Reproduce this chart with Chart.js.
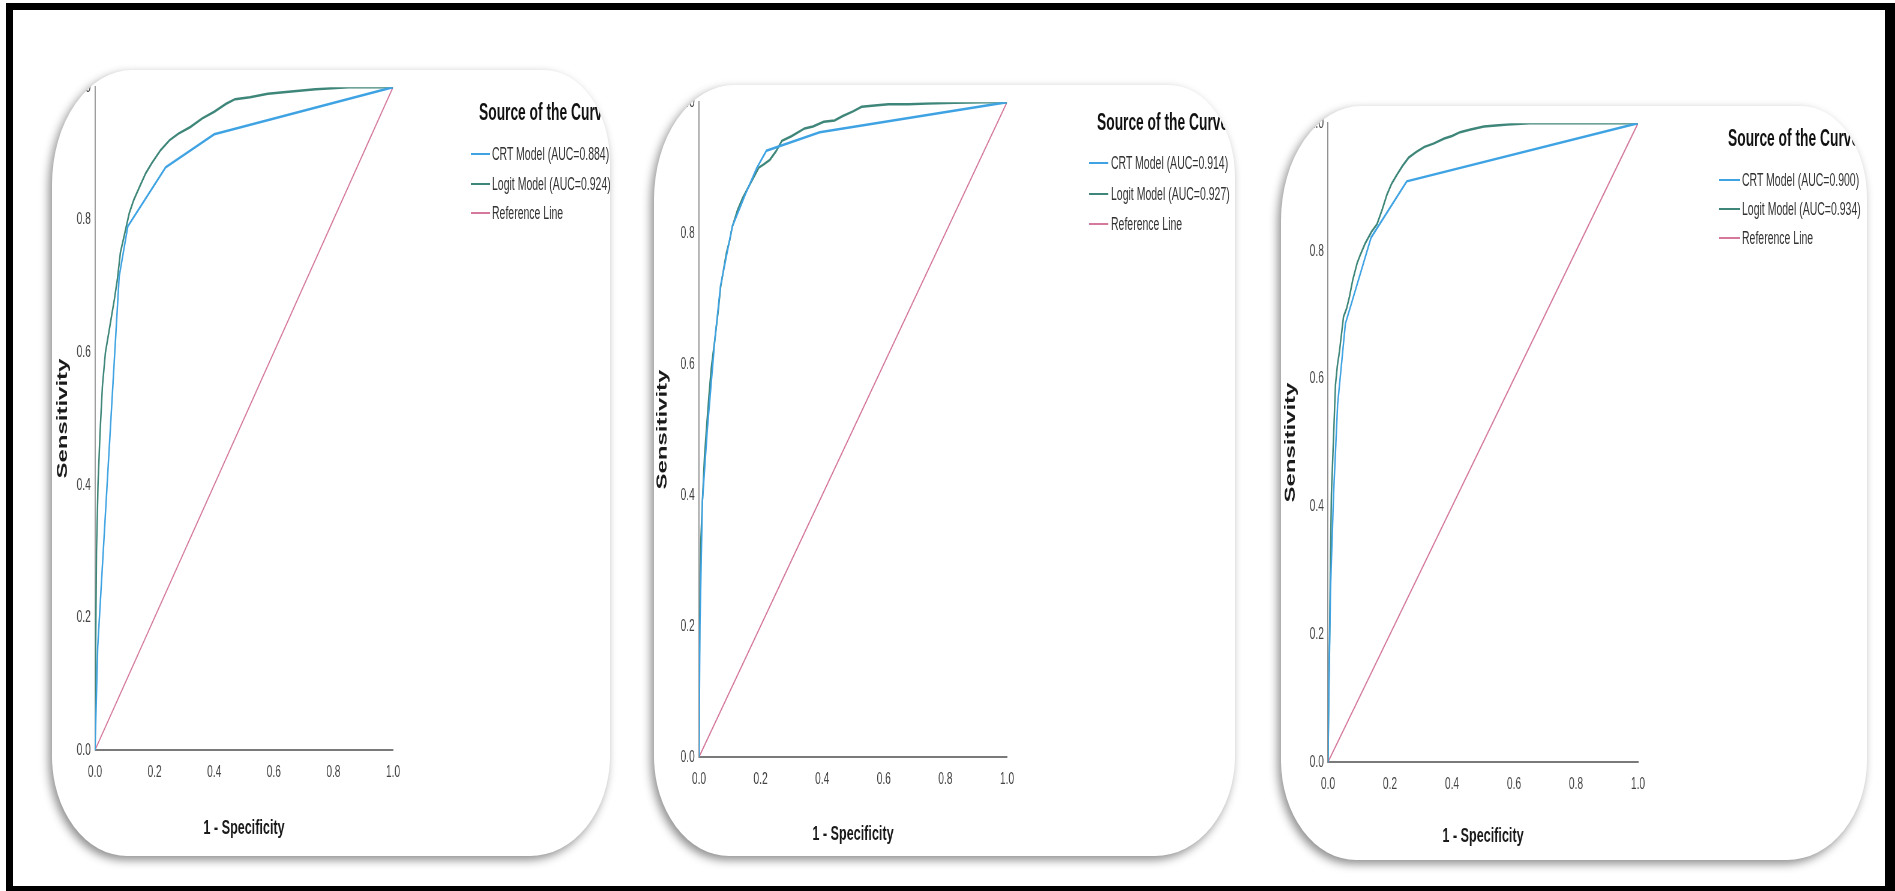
<!DOCTYPE html>
<html>
<head>
<meta charset="utf-8">
<script src="https://cdn.jsdelivr.net/npm/chart.js@4.4.0/dist/chart.umd.min.js"></script>
<style>
html,body{margin:0;padding:0;background:#fff;width:1895px;height:891px;overflow:hidden;position:relative;font-family:"Liberation Sans",Arial,sans-serif;}
#frame{position:absolute;left:6px;top:3px;width:1889px;height:888px;box-sizing:border-box;border-style:solid;border-color:#000;border-width:7px 10px 5px 7px;}
.card{position:absolute;background:#fff;overflow:hidden;border-radius:80px 66px 80px 75px / 115px 92px 100px 100px;box-shadow:-3px 4px 10px rgba(0,0,0,0.45);}
.stage{position:absolute;left:0;top:0;transform-origin:0 0;}
.stage canvas{position:absolute;left:0;top:0;}
.lg-title{position:absolute;font-weight:bold;color:#111;white-space:nowrap;height:28px;line-height:28px;}
.lg-item{position:absolute;white-space:nowrap;color:#333;height:22px;line-height:22px;}
.lg-swatch{position:absolute;height:2px;}
</style>
</head>
<body>
<div id="frame"></div>
<script>
// ---------- data ----------
const tickValues = [0, 0.2, 0.4, 0.6, 0.8, 1.0];
const legendTitle = 'Source of the Curve';
const seriesNames = ['CRT Model', 'Logit Model', 'Reference Line'];
const aucCrt = ['0.884', '0.914', '0.900'];
const aucLogit = ['0.924', '0.927', '0.934'];
const xAxisTitle = '1 - Specificity';
const yAxisTitle = 'Sensitivity';

const refFpr = [0, 1];
const refTpr = [0, 1];

// Panel 1
const crtFpr1 = [0, 0.009, 0.081, 0.11, 0.237, 0.40, 1];
const crtTpr1 = [0, 0.155, 0.714, 0.79, 0.879, 0.929, 1];
const logitFpr1 = [0,0.002,0.005,0.01,0.017,0.025,0.035,0.05,0.065,0.075,0.085,0.1,0.115,0.13,0.15,0.17,0.19,0.22,0.25,0.28,0.32,0.36,0.40,0.44,0.47,0.52,0.58,0.65,0.74,0.85,1];
const logitTpr1 = [0,0.15,0.30,0.40,0.48,0.55,0.60,0.64,0.68,0.71,0.75,0.78,0.81,0.83,0.85,0.87,0.885,0.905,0.92,0.93,0.94,0.953,0.963,0.975,0.982,0.985,0.99,0.993,0.997,1,1];

// Panel 2
const crtFpr2 = [0, 0.003, 0.011, 0.027, 0.052, 0.07, 0.108, 0.151, 0.188, 0.219, 0.392, 1];
const crtTpr2 = [0, 0.2, 0.39, 0.5, 0.64, 0.72, 0.81, 0.86, 0.90, 0.926, 0.954, 1];
const logitFpr2 = [0,0.002,0.006,0.011,0.018,0.024,0.032,0.04,0.052,0.062,0.07,0.08,0.089,0.1,0.108,0.125,0.142,0.16,0.176,0.194,0.21,0.23,0.25,0.269,0.30,0.343,0.37,0.405,0.44,0.467,0.50,0.528,0.57,0.615,0.68,0.74,0.83,0.925,1];
const logitTpr2 = [0,0.2,0.33,0.39,0.46,0.5,0.55,0.595,0.64,0.68,0.717,0.745,0.77,0.79,0.81,0.835,0.854,0.87,0.884,0.9,0.905,0.912,0.925,0.941,0.948,0.96,0.963,0.97,0.972,0.979,0.986,0.993,0.995,0.997,0.997,0.998,0.999,1,1];

// Panel 3
const crtFpr3 = [0, 0.003, 0.008, 0.018, 0.031, 0.056, 0.139, 0.254, 1];
const crtTpr3 = [0, 0.116, 0.27, 0.42, 0.56, 0.686, 0.821, 0.909, 1];
const logitFpr3 = [0,0.002,0.005,0.008,0.011,0.018,0.024,0.03,0.037,0.05,0.06,0.069,0.08,0.094,0.105,0.12,0.14,0.158,0.175,0.19,0.205,0.222,0.24,0.26,0.285,0.311,0.34,0.375,0.40,0.426,0.46,0.503,0.579,0.65,0.707,1];
const logitTpr3 = [0,0.1,0.19,0.32,0.42,0.51,0.59,0.62,0.643,0.697,0.71,0.728,0.755,0.781,0.795,0.812,0.83,0.842,0.865,0.888,0.905,0.919,0.933,0.946,0.955,0.963,0.968,0.976,0.98,0.986,0.99,0.995,0.998,1,1,1];

// ---------- styling / layout ----------
const colors = {crt: '#3fa3e3', logit: '#3e8679', ref: '#d4789c', axis: '#8a8a8a', xaxis: '#7a7a7a', tick: '#444', title: '#1a1a1a'};
const FONT = "'Liberation Sans', Arial, sans-serif";
const SX = 0.6;              // horizontal squeeze of the whole picture
const TICK_SIZE = 17, X_TITLE_SIZE = 21, Y_TITLE_SIZE = 24, LG_TITLE_SIZE = 23, LG_ITEM_SIZE = 17.5;

const layouts = [
  {card:[52,70,610,856],   plot:[95,393,750,84],    ytx:63,   xty:828, lgTitle:[479,112],  lgLine:[471,490],   lgText:492,  lgRows:[154,184,213]},
  {card:[654,85,1235,856], plot:[699,1007,757,94],  ytx:662,  xty:834, lgTitle:[1097,122], lgLine:[1089,1108], lgText:1111, lgRows:[163,194,224]},
  {card:[1281,106,1867,860], plot:[1328,1638,762,112], ytx:1291, xty:836, lgTitle:[1728,138], lgLine:[1719,1740], lgText:1742, lgRows:[180,209,238]}
];
const panelData = [
  {crt:[crtFpr1, crtTpr1], logit:[logitFpr1, logitTpr1], aucC: aucCrt[0], aucL: aucLogit[0]},
  {crt:[crtFpr2, crtTpr2], logit:[logitFpr2, logitTpr2], aucC: aucCrt[1], aucL: aucLogit[1]},
  {crt:[crtFpr3, crtTpr3], logit:[logitFpr3, logitTpr3], aucC: aucCrt[2], aucL: aucLogit[2]}
];

const toPts = (xs, ys) => xs.map((x, i) => ({x, y: ys[i]}));

layouts.forEach((p, i) => {
  const d = panelData[i];
  const [L, T, R, B] = p.card;
  const W = R - L, H = B - T;
  const sw = Math.round(W / SX);
  const card = document.createElement('div');
  card.className = 'card';
  Object.assign(card.style, {left: L + 'px', top: T + 'px', width: W + 'px', height: H + 'px'});
  const stage = document.createElement('div');
  stage.className = 'stage';
  Object.assign(stage.style, {width: sw + 'px', height: H + 'px', transform: 'scaleX(' + SX + ')'});
  card.appendChild(stage);
  document.body.appendChild(card);

  const sx = x => (x - L) / SX;
  const [x0, x1, y0, y1] = p.plot;
  const Wy = sx(x0);
  const yLH = Y_TITLE_SIZE * 1.2, xLH = X_TITLE_SIZE * 1.2;
  const padTop = y1 - T;
  const padBottom = H - (p.xty - T) - xLH / 2;
  const padRight = sw - sx(x1);
  const Hx = H - padBottom - (y0 - T);
  const ytp = Math.max(0, sx(p.ytx) - yLH / 2);

  const cv = document.createElement('canvas');
  cv.width = sw; cv.height = H;
  cv.style.width = sw + 'px'; cv.style.height = H + 'px';
  stage.appendChild(cv);

  new Chart(cv, {
    type: 'scatter',
    data: {
      datasets: [
        {label: seriesNames[0], data: toPts(d.crt[0], d.crt[1]), showLine: true, borderColor: colors.crt, borderWidth: 2.5, pointRadius: 0, tension: 0, fill: false},
        {label: seriesNames[1], data: toPts(d.logit[0], d.logit[1]), showLine: true, borderColor: colors.logit, borderWidth: 2.5, pointRadius: 0, tension: 0, fill: false},
        {label: seriesNames[2], data: toPts(refFpr, refTpr), showLine: true, borderColor: colors.ref, borderWidth: 1.8, pointRadius: 0, tension: 0, fill: false}
      ]
    },
    options: {
      responsive: false,
      animation: false,
      devicePixelRatio: 1,
      events: [],
      layout: {autoPadding: false, padding: {left: 0, top: padTop, right: padRight, bottom: padBottom}},
      plugins: {legend: {display: false}, tooltip: {enabled: false}},
      scales: {
        x: {
          type: 'linear', min: 0, max: 1,
          afterFit: s => { s.height = Hx; },
          afterBuildTicks: s => { s.ticks = tickValues.map(v => ({value: v})); },
          grid: {display: false, drawTicks: false},
          border: {display: true, color: colors.xaxis, width: 2},
          ticks: {padding: 12, maxRotation: 0, autoSkip: false, color: colors.tick, font: {family: FONT, size: TICK_SIZE}, callback: v => Number(v).toFixed(1)},
          title: {display: true, text: xAxisTitle, color: colors.title, padding: {top: 0, bottom: 0}, font: {family: FONT, size: X_TITLE_SIZE, weight: 'bold'}}
        },
        y: {
          type: 'linear', min: 0, max: 1,
          afterFit: s => { s.width = Wy; },
          afterBuildTicks: s => { s.ticks = tickValues.map(v => ({value: v})); },
          grid: {display: false, drawTicks: false},
          border: {display: true, color: colors.axis, width: 1.8},
          ticks: {padding: 7, autoSkip: false, color: colors.tick, font: {family: FONT, size: TICK_SIZE}, callback: v => Number(v).toFixed(1)},
          title: {display: true, text: yAxisTitle, color: colors.title, padding: {top: ytp, bottom: 0}, font: {family: FONT, size: Y_TITLE_SIZE, weight: 'bold'}}
        }
      }
    }
  });

  // legend (HTML text)
  const t = document.createElement('div');
  t.className = 'lg-title';
  t.textContent = legendTitle;
  Object.assign(t.style, {left: sx(p.lgTitle[0]) + 'px', top: (p.lgTitle[1] - T - 14) + 'px', fontSize: LG_TITLE_SIZE + 'px'});
  stage.appendChild(t);
  const labels = [seriesNames[0] + ' (AUC=' + d.aucC + ')', seriesNames[1] + ' (AUC=' + d.aucL + ')', seriesNames[2]];
  const cols = [colors.crt, colors.logit, colors.ref];
  labels.forEach((lab, k) => {
    const cy = p.lgRows[k] - T;
    const sv = document.createElement('div');
    sv.className = 'lg-swatch';
    Object.assign(sv.style, {left: sx(p.lgLine[0]) + 'px', width: (sx(p.lgLine[1]) - sx(p.lgLine[0])) + 'px', top: (cy - 1) + 'px', background: cols[k]});
    stage.appendChild(sv);
    const it = document.createElement('div');
    it.className = 'lg-item';
    it.textContent = lab;
    Object.assign(it.style, {left: sx(p.lgText) + 'px', top: (cy - 11) + 'px', fontSize: LG_ITEM_SIZE + 'px'});
    stage.appendChild(it);
  });
});
</script>
</body>
</html>
